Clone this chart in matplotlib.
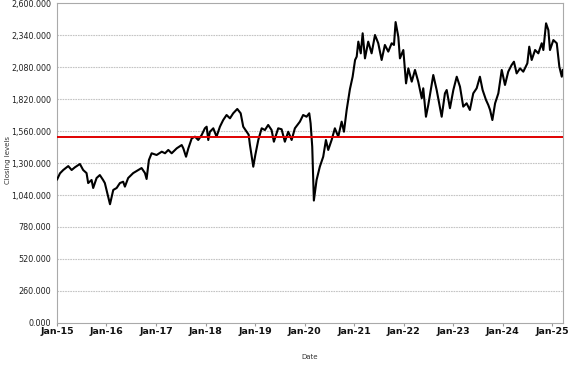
import matplotlib
matplotlib.use("Agg")
import matplotlib.pyplot as plt
import matplotlib.dates as mdates
import matplotlib.ticker as mticker
import pandas as pd

dates = [
    "2015-01-02", "2015-01-23", "2015-02-16", "2015-03-25", "2015-04-19", "2015-05-13",
    "2015-06-19", "2015-07-13", "2015-08-07", "2015-08-19", "2015-09-13", "2015-09-25",
    "2015-10-20", "2015-11-13", "2015-12-07", "2015-12-20", "2016-01-10", "2016-01-27",
    "2016-02-20", "2016-03-16", "2016-04-09", "2016-05-03", "2016-05-16", "2016-06-09",
    "2016-07-16", "2016-08-22", "2016-09-16", "2016-10-11", "2016-10-23", "2016-11-09",
    "2016-11-29", "2017-01-05", "2017-02-12", "2017-03-08", "2017-04-01", "2017-04-26",
    "2017-06-02", "2017-07-09", "2017-07-21", "2017-08-10", "2017-08-27", "2017-09-21",
    "2017-10-15", "2017-11-08", "2017-12-03", "2017-12-27", "2018-01-09", "2018-01-21",
    "2018-02-02", "2018-02-27", "2018-03-23", "2018-04-17", "2018-05-11", "2018-06-05",
    "2018-06-30", "2018-07-24", "2018-08-23", "2018-09-17", "2018-10-06", "2018-10-31",
    "2018-11-15", "2018-11-24", "2018-12-19", "2019-01-03", "2019-01-25", "2019-02-19",
    "2019-03-15", "2019-04-08", "2019-05-03", "2019-05-20", "2019-06-21", "2019-07-16",
    "2019-08-09", "2019-09-03", "2019-09-28", "2019-10-22", "2019-11-28", "2019-12-22",
    "2020-01-16", "2020-02-05", "2020-02-15", "2020-02-27", "2020-03-10", "2020-03-30",
    "2020-04-23", "2020-05-18", "2020-06-07", "2020-06-24", "2020-07-19", "2020-08-12",
    "2020-09-06", "2020-10-01", "2020-10-18", "2020-11-07", "2020-12-01", "2020-12-21",
    "2021-01-08", "2021-01-20", "2021-02-01", "2021-02-19", "2021-03-05", "2021-03-22",
    "2021-04-15", "2021-05-10", "2021-06-04", "2021-06-28", "2021-07-23", "2021-08-16",
    "2021-09-10", "2021-10-05", "2021-10-22", "2021-11-03", "2021-11-23", "2021-12-05",
    "2021-12-30", "2022-01-19", "2022-02-05", "2022-03-02", "2022-03-26", "2022-04-19",
    "2022-05-15", "2022-05-26", "2022-06-15", "2022-07-02", "2022-08-08", "2022-09-02",
    "2022-10-09", "2022-11-02", "2022-11-15", "2022-12-09", "2023-01-03", "2023-01-28",
    "2023-02-21", "2023-03-17", "2023-04-11", "2023-05-05", "2023-05-30", "2023-06-24",
    "2023-07-18", "2023-08-07", "2023-09-01", "2023-09-18", "2023-10-01", "2023-10-18",
    "2023-11-07", "2023-12-01", "2023-12-26", "2024-01-19", "2024-02-12", "2024-03-08",
    "2024-03-25", "2024-04-14", "2024-05-09", "2024-06-02", "2024-07-02", "2024-07-16",
    "2024-08-03", "2024-08-28", "2024-09-21", "2024-10-16", "2024-10-28", "2024-11-17",
    "2024-12-04", "2024-12-16", "2025-01-10", "2025-02-04", "2025-02-23", "2025-03-13",
    "2025-03-20",
]

closing = [
    1167, 1216, 1243, 1275, 1243, 1265,
    1292, 1243, 1218, 1137, 1162, 1097,
    1178, 1202, 1162, 1137, 1040, 965,
    1081, 1097, 1137, 1148, 1108, 1178,
    1218, 1243, 1259, 1218, 1170, 1324,
    1379, 1365, 1392, 1379, 1406, 1379,
    1419, 1446, 1419, 1351, 1419, 1500,
    1514, 1487, 1527, 1582, 1595, 1487,
    1554, 1582, 1514, 1595, 1649, 1690,
    1663, 1704, 1739, 1704, 1595, 1554,
    1530, 1450, 1270, 1365, 1487, 1582,
    1568, 1609, 1568, 1473, 1582, 1574,
    1473, 1554, 1487, 1582, 1636, 1690,
    1676, 1704, 1622, 1432, 995, 1162,
    1270, 1351, 1487, 1406, 1487, 1582,
    1514, 1636, 1554, 1731, 1900, 2001,
    2137, 2164, 2286, 2191, 2354, 2150,
    2286, 2191, 2340, 2273, 2137, 2259,
    2205, 2273, 2259, 2445, 2326, 2150,
    2218, 1947, 2069, 1961, 2056, 1961,
    1826, 1907, 1676, 1771, 2015, 1893,
    1676, 1866, 1893, 1745, 1893, 2001,
    1920, 1758, 1785, 1731, 1866, 1907,
    2001, 1893, 1812, 1771, 1731, 1649,
    1785, 1866, 2056, 1934, 2042, 2096,
    2123, 2028, 2069, 2042, 2110, 2245,
    2137, 2218, 2191, 2273, 2218, 2435,
    2380, 2218, 2299, 2273, 2083, 2001,
    2056,
]

reference_level = 1510
y_ticks = [0, 260, 520, 780, 1040, 1300, 1560, 1820, 2080, 2340, 2600]
x_tick_years = list(range(2015, 2026))

x = pd.to_datetime(dates)

fig = plt.figure(figsize=(5.77, 3.67), dpi=100)
ax = fig.add_axes([57 / 577, 1 - 323 / 367, (563 - 57) / 577, 320 / 367])

for yv in y_ticks[1:-1]:
    ax.axhline(yv, color="#c4c4c4", lw=0.8, ls=(0, (1.5, 0.8)), zorder=1)

ax.plot(x, closing, color="black", lw=1.5, zorder=3)
ax.axhline(reference_level, color="#e00000", lw=1.4, zorder=4)

ax.set_ylim(0, 2600)
ax.set_yticks(y_ticks)
ax.yaxis.set_major_formatter(mticker.FuncFormatter(lambda v, p: f"{v:,.3f}"))
ax.set_xlim(pd.Timestamp("2015-01-01"), pd.Timestamp("2025-03-22"))
ax.set_xticks([pd.Timestamp(f"{yr}-01-01") for yr in x_tick_years])
ax.xaxis.set_major_formatter(mdates.DateFormatter("%b-%y"))

ax.tick_params(axis="y", length=0, labelsize=5.8, colors="#222222", pad=4)
ax.tick_params(axis="x", length=2, labelsize=6.8, colors="#111111", pad=1, color="#999999")
for lbl in ax.get_xticklabels():
    lbl.set_fontweight("bold")

for s in ax.spines.values():
    s.set_color("#aaaaaa")
    s.set_linewidth(0.8)

fig.text(310 / 577, 1 - 357 / 367, "Date", fontsize=5, ha="center", va="center", color="#333333")
fig.text(8 / 577, 1 - 160 / 367, "Closing levels", fontsize=5, rotation=90,
         ha="center", va="center", color="#333333")

fig.savefig("out.png", dpi=100)
